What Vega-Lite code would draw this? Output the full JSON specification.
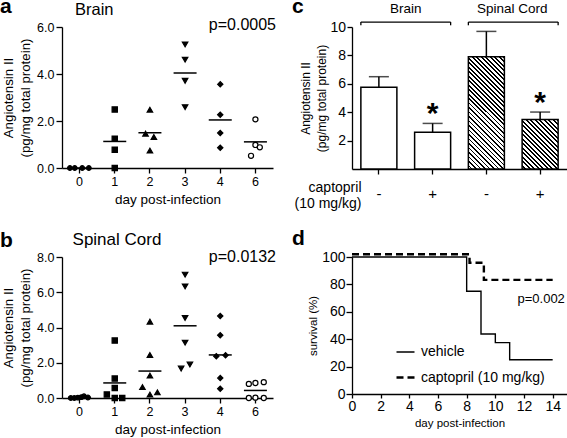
{
"$schema": "https://vega.github.io/schema/vega-lite/v6.json",
"autosize": {"type": "none"},
"padding": {"left": 62, "top": 27, "right": 505, "bottom": 411},
"background": "white",
"config": {
  "font": "Liberation Sans",
  "view": {"stroke": null},
  "axis": {"grid": false, "domainColor": "#000", "tickColor": "#000", "labelColor": "#000", "titleColor": "#000", "domainWidth": 1.3, "tickWidth": 1.3, "titleFontWeight": "normal", "labelFont": "Liberation Sans", "titleFont": "Liberation Sans", "labelFlush": false, "labelOverlap": false, "labelBound": false},
  "title": {"fontSize": 21, "fontWeight": "bold", "anchor": "start", "frame": "group", "offset": 0, "baseline": "alphabetic", "color": "#000", "font": "Liberation Sans"},
  "text": {"color": "#000", "font": "Liberation Sans"},
  "legend": {"labelFont": "Liberation Sans", "labelColor": "#000"}
},
"datasets": {
  "brain": [
    {"day": "0", "val": 0, "jit": -2.2}, {"day": "0", "val": 0, "jit": -1.1}, {"day": "0", "val": 0, "jit": 0.6}, {"day": "0", "val": 0, "jit": 2.1},
    {"day": "1", "val": 2.49, "jit": 0}, {"day": "1", "val": 1.25, "jit": 0}, {"day": "1", "val": 0.78, "jit": 0}, {"day": "1", "val": 0, "jit": 0},
    {"day": "2", "val": 2.48, "jit": 0}, {"day": "2", "val": 1.46, "jit": -1}, {"day": "2", "val": 1.32, "jit": 0.9}, {"day": "2", "val": 0.74, "jit": 0},
    {"day": "3", "val": 5.26, "jit": 0}, {"day": "3", "val": 4.61, "jit": 0}, {"day": "3", "val": 3.71, "jit": 0}, {"day": "3", "val": 2.59, "jit": 0},
    {"day": "4", "val": 3.56, "jit": 0}, {"day": "4", "val": 2.27, "jit": 0}, {"day": "4", "val": 1.49, "jit": 0}, {"day": "4", "val": 0.86, "jit": 0},
    {"day": "6", "val": 2.07, "jit": 0}, {"day": "6", "val": 0.98, "jit": 0}, {"day": "6", "val": 0.88, "jit": 1}, {"day": "6", "val": 0.52, "jit": -1}
  ],
  "spinal": [
    {"day": "0", "val": 0, "jit": -2}, {"day": "0", "val": 0, "jit": -1.2}, {"day": "0", "val": 0.02, "jit": -0.4}, {"day": "0", "val": 0.05, "jit": 0.4}, {"day": "0", "val": 0.1, "jit": 1}, {"day": "0", "val": 0.03, "jit": 1.9},
    {"day": "1", "val": 3.26, "jit": 0}, {"day": "1", "val": 1.1, "jit": 0}, {"day": "1", "val": 0.57, "jit": 0}, {"day": "1", "val": 0.2, "jit": -1.8}, {"day": "1", "val": 0, "jit": 0}, {"day": "1", "val": 0, "jit": 1.7},
    {"day": "2", "val": 4.33, "jit": 0}, {"day": "2", "val": 2.44, "jit": 0}, {"day": "2", "val": 1.27, "jit": 0}, {"day": "2", "val": 0.62, "jit": -1.7}, {"day": "2", "val": 0.19, "jit": 0}, {"day": "2", "val": 0.32, "jit": 1.7},
    {"day": "3", "val": 7.0, "jit": 0}, {"day": "3", "val": 6.33, "jit": 0}, {"day": "3", "val": 4.54, "jit": 0}, {"day": "3", "val": 3.14, "jit": 0}, {"day": "3", "val": 1.67, "jit": -0.9}, {"day": "3", "val": 1.9, "jit": 1.1},
    {"day": "4", "val": 4.65, "jit": 0}, {"day": "4", "val": 3.56, "jit": 0}, {"day": "4", "val": 2.37, "jit": -0.9}, {"day": "4", "val": 2.42, "jit": 1.2}, {"day": "4", "val": 1.13, "jit": 0}, {"day": "4", "val": 0.53, "jit": 0},
    {"day": "6", "val": 0.8, "jit": -1.5}, {"day": "6", "val": 0.85, "jit": 0}, {"day": "6", "val": 0.9, "jit": 1.9}, {"day": "6", "val": 0, "jit": -1.5}, {"day": "6", "val": 0.02, "jit": 0}, {"day": "6", "val": 0, "jit": 1.9}
  ],
  "bars": [
    {"key": "b-", "tissue": "Brain", "captopril": "-", "mean": 5.75, "err": 6.5, "sig": false},
    {"key": "b+", "tissue": "Brain", "captopril": "+", "mean": 2.58, "err": 3.21, "sig": true},
    {"key": "s-", "tissue": "Spinal Cord", "captopril": "-", "mean": 7.9, "err": 9.69, "sig": false},
    {"key": "s+", "tissue": "Spinal Cord", "captopril": "+", "mean": 3.49, "err": 4.01, "sig": true}
  ],
  "surv": [
    {"group": "vehicle", "day": 0, "pct": 100}, {"group": "vehicle", "day": 8, "pct": 75}, {"group": "vehicle", "day": 9, "pct": 43.75}, {"group": "vehicle", "day": 10, "pct": 37.5}, {"group": "vehicle", "day": 11, "pct": 25}, {"group": "vehicle", "day": 14, "pct": 25},
    {"group": "captopril (10 mg/kg)", "day": 0, "pct": 102}, {"group": "captopril (10 mg/kg)", "day": 8.2, "pct": 95.8}, {"group": "captopril (10 mg/kg)", "day": 9.2, "pct": 83.3}, {"group": "captopril (10 mg/kg)", "day": 14, "pct": 83.3}
  ]
},
"columns": 2,
"spacing": {"row": 88, "column": 79},
"bounds": "flush",
"resolve": {
  "scale": {"xOffset": "independent", "shape": "independent", "fill": "independent", "size": "independent", "strokeDash": "independent", "strokeWidth": "independent"},
  "legend": {"strokeDash": "independent", "strokeWidth": "independent", "shape": "independent", "fill": "independent", "size": "independent"}
},
"concat": [
  {
    "width": 211, "height": 141,
    "title": {"text": "a", "dx": -62, "dy": 19},
    "data": {"name": "brain"},
    "encoding": {"x": {"field": "day", "type": "ordinal", "scale": {"domain": ["0", "1", "2", "3", "4", "6"], "paddingInner": 0, "paddingOuter": 0}, "axis": {"labelAngle": 0, "tickSize": 5, "labelPadding": 2, "labelFontSize": 12.5, "labelOverlap": false, "title": "day post-infection", "titleFontSize": 13.5, "titlePadding": 5}}},
    "layer": [
      {"mark": {"type": "point", "filled": true, "opacity": 1, "stroke": "#000", "strokeWidth": 1.2},
       "encoding": {
         "y": {"field": "val", "type": "quantitative", "scale": {"domain": [0, 6], "nice": false}, "axis": {"values": [0, 2, 4, 6], "tickCount": 20, "format": ".1f", "tickSize": 6, "labelPadding": 2, "labelFontSize": 12.5, "labelOverlap": false, "title": ["Angiotensin II", "(pg/mg total protein)"], "titleFontSize": 13.3, "titleLineHeight": 17, "titlePadding": 4}},
         "xOffset": {"field": "jit", "type": "quantitative", "scale": {"domain": [-4, 4]}},
         "shape": {"field": "day", "type": "nominal", "scale": {"domain": ["0", "1", "2", "3", "4", "6"], "range": ["circle", "square", "triangle-up", "triangle-down", "diamond", "circle"]}, "legend": null},
         "fill": {"field": "day", "type": "nominal", "scale": {"domain": ["0", "1", "2", "3", "4", "6"], "range": ["#000", "#000", "#000", "#000", "#000", "#fff"]}, "legend": null},
         "size": {"field": "day", "type": "nominal", "scale": {"type": "ordinal", "domain": ["0", "1", "2", "3", "4", "6"], "range": [22, 28, 30, 30, 28, 26]}, "legend": null}
       }},
      {"mark": {"type": "tick", "color": "#000", "thickness": 1.5, "size": 23},
       "encoding": {"y": {"aggregate": "mean", "field": "val", "type": "quantitative"}}},
      {"data": {"values": [{}]}, "mark": {"type": "text", "text": "Brain", "fontSize": 16.5, "align": "left", "baseline": "alphabetic"},
       "encoding": {"x": {"datum": "0", "type": "ordinal", "bandPosition": 0.37}, "y": {"datum": 6.52, "type": "quantitative"}}},
      {"data": {"values": [{}]}, "mark": {"type": "text", "text": "p=0.0005", "fontSize": 16, "align": "right", "baseline": "middle", "dx": 3},
       "encoding": {"x": {"datum": "6", "type": "ordinal", "bandPosition": 1}, "y": {"datum": 6.1, "type": "quantitative"}}}
    ]
  },
  {
    "width": 215, "height": 142,
    "title": {"text": "c", "dx": -60, "dy": 18.5},
    "resolve": {"scale": {"x": "independent"}},
    "layer": [
      {
        "data": {"name": "bars"},
        "encoding": {"x": {"field": "key", "type": "nominal", "scale": {"domain": ["b-", "b+", "s-", "s+"], "paddingInner": 0.33, "paddingOuter": 0.165}, "axis": {"labelExpr": "substring(datum.label, 1)", "labelAngle": 0, "tickSize": 5, "labelPadding": 12, "labelFontSize": 15, "labelOverlap": false, "title": ["captopril", "(10 mg/kg)"], "titleFontSize": 14, "titleLineHeight": 16, "titleAlign": "right", "titleAnchor": "start", "titleBaseline": "alphabetic", "titleX": 9, "titleY": 22, "titleAngle": 0}}},
        "layer": [
          {"transform": [{"filter": "datum.tissue === 'Brain'"}],
           "mark": {"type": "bar", "fill": "#fff", "stroke": "#000", "strokeWidth": 1.5},
           "encoding": {"y": {"field": "mean", "type": "quantitative", "scale": {"domain": [0, 10], "nice": false}, "axis": {"values": [2, 4, 6, 8, 10], "tickCount": 20, "format": "d", "tickSize": 5, "labelPadding": 1.5, "labelFontSize": 14, "labelOverlap": false, "title": ["Angiotensin II", "(pg/mg total protein)"], "titleFontSize": 12, "titleLineHeight": 16, "titlePadding": 1}}}},
          {"transform": [{"filter": "datum.key === 's-'"}],
           "mark": {"type": "bar", "stroke": "#000", "strokeWidth": 1.5,
             "fill": {"gradient": "linear", "x1": 0, "y1": 1, "x2": 0.3843, "y2": -0.1976, "stops": [
{"offset":0,"color":"#fff"},{"offset":0.0188,"color":"#fff"},{"offset":0.0188,"color":"#000"},{"offset":0.0303,"color":"#000"},
{"offset":0.0303,"color":"#fff"},{"offset":0.0491,"color":"#fff"},{"offset":0.0491,"color":"#000"},{"offset":0.0606,"color":"#000"},
{"offset":0.0606,"color":"#fff"},{"offset":0.0794,"color":"#fff"},{"offset":0.0794,"color":"#000"},{"offset":0.0909,"color":"#000"},
{"offset":0.0909,"color":"#fff"},{"offset":0.1097,"color":"#fff"},{"offset":0.1097,"color":"#000"},{"offset":0.1212,"color":"#000"},
{"offset":0.1212,"color":"#fff"},{"offset":0.1400,"color":"#fff"},{"offset":0.1400,"color":"#000"},{"offset":0.1515,"color":"#000"},
{"offset":0.1515,"color":"#fff"},{"offset":0.1703,"color":"#fff"},{"offset":0.1703,"color":"#000"},{"offset":0.1818,"color":"#000"},
{"offset":0.1818,"color":"#fff"},{"offset":0.2006,"color":"#fff"},{"offset":0.2006,"color":"#000"},{"offset":0.2121,"color":"#000"},
{"offset":0.2121,"color":"#fff"},{"offset":0.2309,"color":"#fff"},{"offset":0.2309,"color":"#000"},{"offset":0.2424,"color":"#000"},
{"offset":0.2424,"color":"#fff"},{"offset":0.2612,"color":"#fff"},{"offset":0.2612,"color":"#000"},{"offset":0.2727,"color":"#000"},
{"offset":0.2727,"color":"#fff"},{"offset":0.2915,"color":"#fff"},{"offset":0.2915,"color":"#000"},{"offset":0.3030,"color":"#000"},
{"offset":0.3030,"color":"#fff"},{"offset":0.3218,"color":"#fff"},{"offset":0.3218,"color":"#000"},{"offset":0.3333,"color":"#000"},
{"offset":0.3333,"color":"#fff"},{"offset":0.3521,"color":"#fff"},{"offset":0.3521,"color":"#000"},{"offset":0.3636,"color":"#000"},
{"offset":0.3636,"color":"#fff"},{"offset":0.3824,"color":"#fff"},{"offset":0.3824,"color":"#000"},{"offset":0.3939,"color":"#000"},
{"offset":0.3939,"color":"#fff"},{"offset":0.4127,"color":"#fff"},{"offset":0.4127,"color":"#000"},{"offset":0.4242,"color":"#000"},
{"offset":0.4242,"color":"#fff"},{"offset":0.4430,"color":"#fff"},{"offset":0.4430,"color":"#000"},{"offset":0.4545,"color":"#000"},
{"offset":0.4545,"color":"#fff"},{"offset":0.4733,"color":"#fff"},{"offset":0.4733,"color":"#000"},{"offset":0.4848,"color":"#000"},
{"offset":0.4848,"color":"#fff"},{"offset":0.5036,"color":"#fff"},{"offset":0.5036,"color":"#000"},{"offset":0.5152,"color":"#000"},
{"offset":0.5152,"color":"#fff"},{"offset":0.5339,"color":"#fff"},{"offset":0.5339,"color":"#000"},{"offset":0.5455,"color":"#000"},
{"offset":0.5455,"color":"#fff"},{"offset":0.5642,"color":"#fff"},{"offset":0.5642,"color":"#000"},{"offset":0.5758,"color":"#000"},
{"offset":0.5758,"color":"#fff"},{"offset":0.5945,"color":"#fff"},{"offset":0.5945,"color":"#000"},{"offset":0.6061,"color":"#000"},
{"offset":0.6061,"color":"#fff"},{"offset":0.6248,"color":"#fff"},{"offset":0.6248,"color":"#000"},{"offset":0.6364,"color":"#000"},
{"offset":0.6364,"color":"#fff"},{"offset":0.6551,"color":"#fff"},{"offset":0.6551,"color":"#000"},{"offset":0.6667,"color":"#000"},
{"offset":0.6667,"color":"#fff"},{"offset":0.6855,"color":"#fff"},{"offset":0.6855,"color":"#000"},{"offset":0.6970,"color":"#000"},
{"offset":0.6970,"color":"#fff"},{"offset":0.7158,"color":"#fff"},{"offset":0.7158,"color":"#000"},{"offset":0.7273,"color":"#000"},
{"offset":0.7273,"color":"#fff"},{"offset":0.7461,"color":"#fff"},{"offset":0.7461,"color":"#000"},{"offset":0.7576,"color":"#000"},
{"offset":0.7576,"color":"#fff"},{"offset":0.7764,"color":"#fff"},{"offset":0.7764,"color":"#000"},{"offset":0.7879,"color":"#000"},
{"offset":0.7879,"color":"#fff"},{"offset":0.8067,"color":"#fff"},{"offset":0.8067,"color":"#000"},{"offset":0.8182,"color":"#000"},
{"offset":0.8182,"color":"#fff"},{"offset":0.8370,"color":"#fff"},{"offset":0.8370,"color":"#000"},{"offset":0.8485,"color":"#000"},
{"offset":0.8485,"color":"#fff"},{"offset":0.8673,"color":"#fff"},{"offset":0.8673,"color":"#000"},{"offset":0.8788,"color":"#000"},
{"offset":0.8788,"color":"#fff"},{"offset":0.8976,"color":"#fff"},{"offset":0.8976,"color":"#000"},{"offset":0.9091,"color":"#000"},
{"offset":0.9091,"color":"#fff"},{"offset":0.9279,"color":"#fff"},{"offset":0.9279,"color":"#000"},{"offset":0.9394,"color":"#000"},
{"offset":0.9394,"color":"#fff"},{"offset":0.9582,"color":"#fff"},{"offset":0.9582,"color":"#000"},{"offset":0.9697,"color":"#000"},
{"offset":0.9697,"color":"#fff"},{"offset":0.9885,"color":"#fff"},{"offset":0.9885,"color":"#000"},{"offset":1,"color":"#000"}
             ]}},
           "encoding": {"y": {"field": "mean", "type": "quantitative"}}},
          {"transform": [{"filter": "datum.key === 's+'"}],
           "mark": {"type": "bar", "stroke": "#000", "strokeWidth": 1.5,
             "fill": {"gradient": "linear", "x1": 0, "y1": 1, "x2": 0.8209, "y2": -0.1301, "stops": [
{"offset":0,"color":"#fff"},{"offset":0.0326,"color":"#fff"},{"offset":0.0326,"color":"#000"},{"offset":0.0526,"color":"#000"},
{"offset":0.0526,"color":"#fff"},{"offset":0.0853,"color":"#fff"},{"offset":0.0853,"color":"#000"},{"offset":0.1053,"color":"#000"},
{"offset":0.1053,"color":"#fff"},{"offset":0.1379,"color":"#fff"},{"offset":0.1379,"color":"#000"},{"offset":0.1579,"color":"#000"},
{"offset":0.1579,"color":"#fff"},{"offset":0.1905,"color":"#fff"},{"offset":0.1905,"color":"#000"},{"offset":0.2105,"color":"#000"},
{"offset":0.2105,"color":"#fff"},{"offset":0.2432,"color":"#fff"},{"offset":0.2432,"color":"#000"},{"offset":0.2632,"color":"#000"},
{"offset":0.2632,"color":"#fff"},{"offset":0.2958,"color":"#fff"},{"offset":0.2958,"color":"#000"},{"offset":0.3158,"color":"#000"},
{"offset":0.3158,"color":"#fff"},{"offset":0.3484,"color":"#fff"},{"offset":0.3484,"color":"#000"},{"offset":0.3684,"color":"#000"},
{"offset":0.3684,"color":"#fff"},{"offset":0.4011,"color":"#fff"},{"offset":0.4011,"color":"#000"},{"offset":0.4211,"color":"#000"},
{"offset":0.4211,"color":"#fff"},{"offset":0.4537,"color":"#fff"},{"offset":0.4537,"color":"#000"},{"offset":0.4737,"color":"#000"},
{"offset":0.4737,"color":"#fff"},{"offset":0.5063,"color":"#fff"},{"offset":0.5063,"color":"#000"},{"offset":0.5263,"color":"#000"},
{"offset":0.5263,"color":"#fff"},{"offset":0.5590,"color":"#fff"},{"offset":0.5590,"color":"#000"},{"offset":0.5789,"color":"#000"},
{"offset":0.5789,"color":"#fff"},{"offset":0.6116,"color":"#fff"},{"offset":0.6116,"color":"#000"},{"offset":0.6316,"color":"#000"},
{"offset":0.6316,"color":"#fff"},{"offset":0.6642,"color":"#fff"},{"offset":0.6642,"color":"#000"},{"offset":0.6842,"color":"#000"},
{"offset":0.6842,"color":"#fff"},{"offset":0.7168,"color":"#fff"},{"offset":0.7168,"color":"#000"},{"offset":0.7368,"color":"#000"},
{"offset":0.7368,"color":"#fff"},{"offset":0.7695,"color":"#fff"},{"offset":0.7695,"color":"#000"},{"offset":0.7895,"color":"#000"},
{"offset":0.7895,"color":"#fff"},{"offset":0.8221,"color":"#fff"},{"offset":0.8221,"color":"#000"},{"offset":0.8421,"color":"#000"},
{"offset":0.8421,"color":"#fff"},{"offset":0.8747,"color":"#fff"},{"offset":0.8747,"color":"#000"},{"offset":0.8947,"color":"#000"},
{"offset":0.8947,"color":"#fff"},{"offset":0.9274,"color":"#fff"},{"offset":0.9274,"color":"#000"},{"offset":0.9474,"color":"#000"},
{"offset":0.9474,"color":"#fff"},{"offset":0.9800,"color":"#fff"},{"offset":0.9800,"color":"#000"},{"offset":1,"color":"#000"}
             ]}},
           "encoding": {"y": {"field": "mean", "type": "quantitative"}}},
          {"mark": {"type": "rule", "color": "#000", "strokeWidth": 1.5},
           "encoding": {"y": {"field": "mean", "type": "quantitative"}, "y2": {"field": "err"}}},
          {"mark": {"type": "tick", "color": "#000", "thickness": 1.5, "size": 20},
           "encoding": {"y": {"field": "err", "type": "quantitative"}}},
          {"transform": [{"filter": "datum.sig"}],
           "mark": {"type": "text", "text": "*", "fontSize": 30, "fontWeight": "bold", "align": "center", "baseline": "alphabetic"},
           "encoding": {"y": {"field": "err", "type": "quantitative"}}}
        ]
      },
      {
        "data": {"values": [{}]},
        "layer": [
          {"mark": {"type": "rule", "color": "#000", "strokeWidth": 1.3},
           "encoding": {"x": {"datum": 0.165, "type": "quantitative", "scale": {"domain": [0, 4], "nice": false, "zero": false}, "axis": null}, "x2": {"datum": 1.835}, "y": {"datum": 10.35, "type": "quantitative"}}},
          {"mark": {"type": "rule", "color": "#000", "strokeWidth": 1.3},
           "encoding": {"x": {"datum": 0.165, "type": "quantitative"}, "y": {"datum": 10.35, "type": "quantitative"}, "y2": {"datum": 10.12}}},
          {"mark": {"type": "rule", "color": "#000", "strokeWidth": 1.3},
           "encoding": {"x": {"datum": 1.835, "type": "quantitative"}, "y": {"datum": 10.35, "type": "quantitative"}, "y2": {"datum": 10.12}}},
          {"mark": {"type": "rule", "color": "#000", "strokeWidth": 1.3},
           "encoding": {"x": {"datum": 2.165, "type": "quantitative"}, "x2": {"datum": 3.835}, "y": {"datum": 10.35, "type": "quantitative"}}},
          {"mark": {"type": "rule", "color": "#000", "strokeWidth": 1.3},
           "encoding": {"x": {"datum": 2.165, "type": "quantitative"}, "y": {"datum": 10.35, "type": "quantitative"}, "y2": {"datum": 10.12}}},
          {"mark": {"type": "rule", "color": "#000", "strokeWidth": 1.3},
           "encoding": {"x": {"datum": 3.835, "type": "quantitative"}, "y": {"datum": 10.35, "type": "quantitative"}, "y2": {"datum": 10.12}}},
          {"mark": {"type": "text", "text": "Brain", "fontSize": 13.5, "align": "center", "baseline": "alphabetic"},
           "encoding": {"x": {"datum": 1.0, "type": "quantitative"}, "y": {"datum": 10.96, "type": "quantitative"}}},
          {"mark": {"type": "text", "text": "Spinal Cord", "fontSize": 13.5, "align": "center", "baseline": "alphabetic"},
           "encoding": {"x": {"datum": 2.98, "type": "quantitative"}, "y": {"datum": 10.96, "type": "quantitative"}}}
        ]
      }
    ]
  },
  {
    "width": 211, "height": 141,
    "title": {"text": "b", "dx": -62, "dy": 24},
    "data": {"name": "spinal"},
    "encoding": {"x": {"field": "day", "type": "ordinal", "scale": {"domain": ["0", "1", "2", "3", "4", "6"], "paddingInner": 0, "paddingOuter": 0}, "axis": {"labelAngle": 0, "tickSize": 5, "labelPadding": 2, "labelFontSize": 12.5, "labelOverlap": false, "title": "day post-infection", "titleFontSize": 13.5, "titlePadding": 5}}},
    "layer": [
      {"mark": {"type": "point", "filled": true, "opacity": 1, "stroke": "#000", "strokeWidth": 1.2},
       "encoding": {
         "y": {"field": "val", "type": "quantitative", "scale": {"domain": [0, 8], "nice": false}, "axis": {"values": [0, 2, 4, 6, 8], "tickCount": 20, "format": ".1f", "tickSize": 6, "labelPadding": 2, "labelFontSize": 12.5, "labelOverlap": false, "title": ["Angiotensin II", "(pg/mg total protein)"], "titleFontSize": 13.3, "titleLineHeight": 17, "titlePadding": 4}},
         "xOffset": {"field": "jit", "type": "quantitative", "scale": {"domain": [-4, 4]}},
         "shape": {"field": "day", "type": "nominal", "scale": {"domain": ["0", "1", "2", "3", "4", "6"], "range": ["circle", "square", "triangle-up", "triangle-down", "diamond", "circle"]}, "legend": null},
         "fill": {"field": "day", "type": "nominal", "scale": {"domain": ["0", "1", "2", "3", "4", "6"], "range": ["#000", "#000", "#000", "#000", "#000", "#fff"]}, "legend": null},
         "size": {"field": "day", "type": "nominal", "scale": {"type": "ordinal", "domain": ["0", "1", "2", "3", "4", "6"], "range": [22, 28, 30, 30, 28, 26]}, "legend": null}
       }},
      {"mark": {"type": "tick", "color": "#000", "thickness": 1.5, "size": 23},
       "encoding": {"y": {"aggregate": "mean", "field": "val", "type": "quantitative"}}},
      {"data": {"values": [{}]}, "mark": {"type": "text", "text": "Spinal Cord", "fontSize": 17, "align": "left", "baseline": "alphabetic"},
       "encoding": {"x": {"datum": "0", "type": "ordinal", "bandPosition": 0.3}, "y": {"datum": 8.7, "type": "quantitative"}}},
      {"data": {"values": [{}]}, "mark": {"type": "text", "text": "p=0.0132", "fontSize": 16, "align": "right", "baseline": "middle", "dx": 3},
       "encoding": {"x": {"datum": "6", "type": "ordinal", "bandPosition": 1}, "y": {"datum": 8.0, "type": "quantitative"}}}
    ]
  },
  {
    "width": 215, "height": 137,
    "title": {"text": "d", "dx": -60, "dy": 4},
    "layer": [
      {"data": {"name": "surv"},
       "mark": {"type": "line", "interpolate": "step-after", "color": "#000"},
       "encoding": {
         "x": {"field": "day", "type": "quantitative", "scale": {"domain": [0, 15], "nice": false}, "axis": {"values": [0, 2, 4, 6, 8, 10, 12, 14], "tickCount": 20, "format": "d", "tickSize": 4, "labelPadding": 1, "labelFontSize": 14, "labelOverlap": false, "title": "day post-infection", "titleFontSize": 11.5, "titlePadding": 4}},
         "y": {"field": "pct", "type": "quantitative", "scale": {"domain": [0, 100], "nice": false}, "axis": {"values": [0, 20, 40, 60, 80, 100], "tickCount": 20, "format": "d", "tickSize": 6, "labelPadding": 1, "labelFontSize": 14, "labelOverlap": false, "title": "survival (%)", "titleFontSize": 11.5, "titlePadding": 3}},
         "strokeDash": {"field": "group", "type": "nominal", "scale": {"domain": ["vehicle", "captopril (10 mg/kg)"], "range": [[1, 0], [7, 4]]},
           "legend": {"title": null, "orient": "none", "legendX": 43, "legendY": 85, "labelFontSize": 14, "symbolSize": 324, "symbolType": "stroke", "symbolStrokeColor": "#000", "labelOffset": 5, "rowPadding": 8, "padding": 0}},
         "strokeWidth": {"field": "group", "type": "nominal", "scale": {"type": "ordinal", "domain": ["vehicle", "captopril (10 mg/kg)"], "range": [1.4, 2.4]},
           "legend": {"title": null, "orient": "none", "legendX": 43, "legendY": 85, "labelFontSize": 14, "symbolSize": 324, "symbolType": "stroke", "symbolStrokeColor": "#000", "labelOffset": 5, "rowPadding": 8, "padding": 0}}
       }},
      {"data": {"values": [{}]}, "mark": {"type": "text", "text": "p=0.002", "fontSize": 13, "align": "right", "baseline": "middle"},
       "encoding": {"x": {"datum": 14.85, "type": "quantitative"}, "y": {"datum": 69.5, "type": "quantitative"}}}
    ]
  }
]
}
